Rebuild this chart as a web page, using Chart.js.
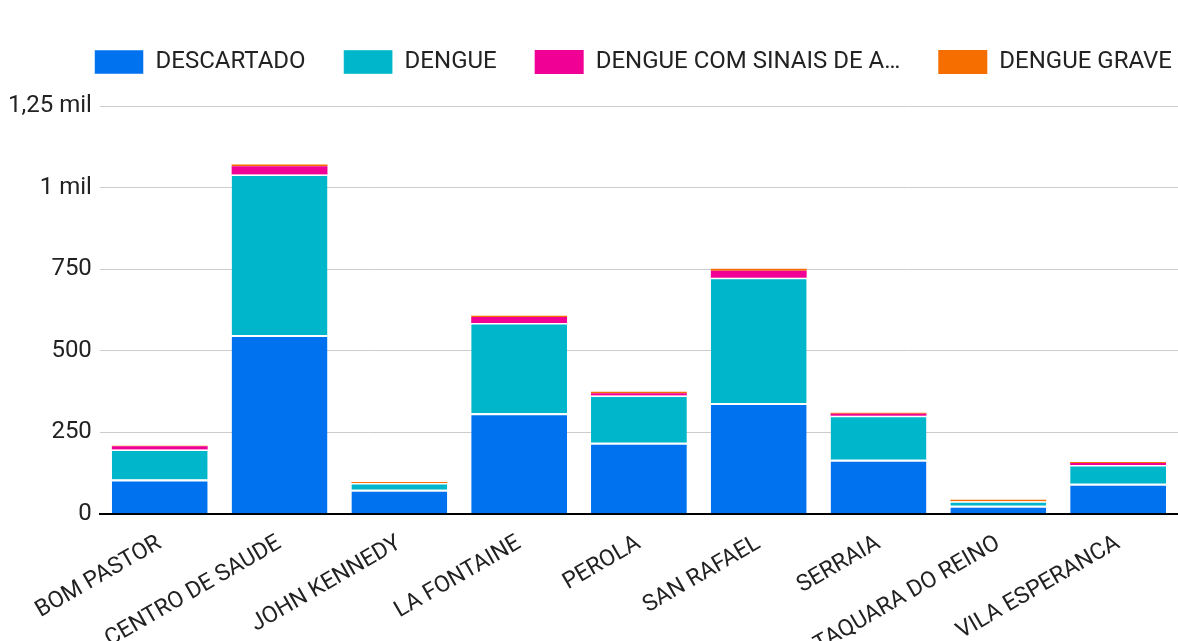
<!DOCTYPE html>
<html>
<head>
<meta charset="utf-8">
<script src="https://cdn.jsdelivr.net/npm/chart.js@4"></script>
<style>
  html, body { margin: 0; padding: 0; background: #fff; overflow: hidden; }
  #wrap { width: 1178px; height: 667px; position: relative; }
</style>
</head>
<body>
<div id="wrap"><canvas id="myChart"></canvas></div>
<script>
const categories = ['BOM PASTOR', 'CENTRO DE SAUDE', 'JOHN KENNEDY', 'LA FONTAINE', 'PEROLA',
                    'SAN RAFAEL', 'SERRAIA', 'TAQUARA DO REINO', 'VILA ESPERANCA'];

const descartado   = [105, 548, 74, 308, 218, 340, 166, 25, 92];
const dengue       = [92, 492, 21, 277, 145, 384, 135, 14, 58];
const dengueSinais = [10, 25, 0, 18, 7, 21, 6, 0, 6];
const dengueGrave  = [2, 6, 3, 4, 4, 6, 3, 4, 3];

const yTicks = [0, 250, 500, 750, 1000, 1250];
const yTickLabels = ['0', '250', '500', '750', '1 mil', '1,25 mil'];

// extra room under the legend, and push it to the right edge
const legendTweak = {
    id: 'legendTweak',
    afterInit(chart) {
        const fit = chart.legend.fit;
        chart.legend.fit = function () {
            fit.call(this);
            this.height += 22;
        };
    },
    afterLayout(chart) {
        chart.legend.right = chart.width + 32;
    }
};

const ctx = document.getElementById('myChart');

new Chart(ctx, {
    type: 'bar',
    data: {
        labels: categories,
        datasets: [
            {
                label: 'DESCARTADO',
                data: descartado,
                backgroundColor: '#0072f0',
                borderColor: '#ffffff',
                borderWidth: { top: 2, right: 0, bottom: 0, left: 0 },
                borderSkipped: false
            },
            {
                label: 'DENGUE',
                data: dengue,
                backgroundColor: '#00b6cb',
                borderColor: '#ffffff',
                borderWidth: { top: 1.5, right: 0, bottom: 0, left: 0 },
                borderSkipped: false
            },
            {
                label: 'DENGUE COM SINAIS DE A…',
                data: dengueSinais,
                backgroundColor: '#f10096',
                borderWidth: 0
            },
            {
                label: 'DENGUE GRAVE',
                data: dengueGrave,
                backgroundColor: '#f66d00',
                borderWidth: 0
            }
        ]
    },
    plugins: [legendTweak],
    options: {
        responsive: true,
        maintainAspectRatio: false,
        animation: false,
        datasets: {
            bar: { categoryPercentage: 0.8, barPercentage: 1.0 }
        },
        layout: {
            padding: { top: 12, left: 0, right: 0, bottom: 0 }
        },
        scales: {
            x: {
                stacked: true,
                grid: { display: false },
                border: { display: true, color: '#000', width: 2 },
                ticks: {
                    autoSkip: false,
                    minRotation: 30,
                    maxRotation: 30,
                    color: '#222',
                    padding: 8,
                    font: { family: 'Roboto', size: 23 }
                }
            },
            y: {
                stacked: true,
                min: 0,
                max: 1250,
                afterBuildTicks: (axis) => { axis.ticks = yTicks.map(v => ({ value: v })); },
                grid: {
                    color: '#cccccc',
                    lineWidth: 1,
                    drawTicks: false
                },
                border: { display: false },
                ticks: {
                    padding: 8,
                    color: '#222',
                    font: { family: 'Roboto', size: 24 },
                    callback: (value) => yTickLabels[yTicks.indexOf(value)]
                }
            }
        },
        plugins: {
            legend: {
                position: 'top',
                align: 'end',
                labels: {
                    boxWidth: 49,
                    boxHeight: 24,
                    padding: 38,
                    color: '#222',
                    font: { family: 'Roboto', size: 24 }
                }
            },
            tooltip: { enabled: false }
        }
    }
});
</script>
</body>
</html>
